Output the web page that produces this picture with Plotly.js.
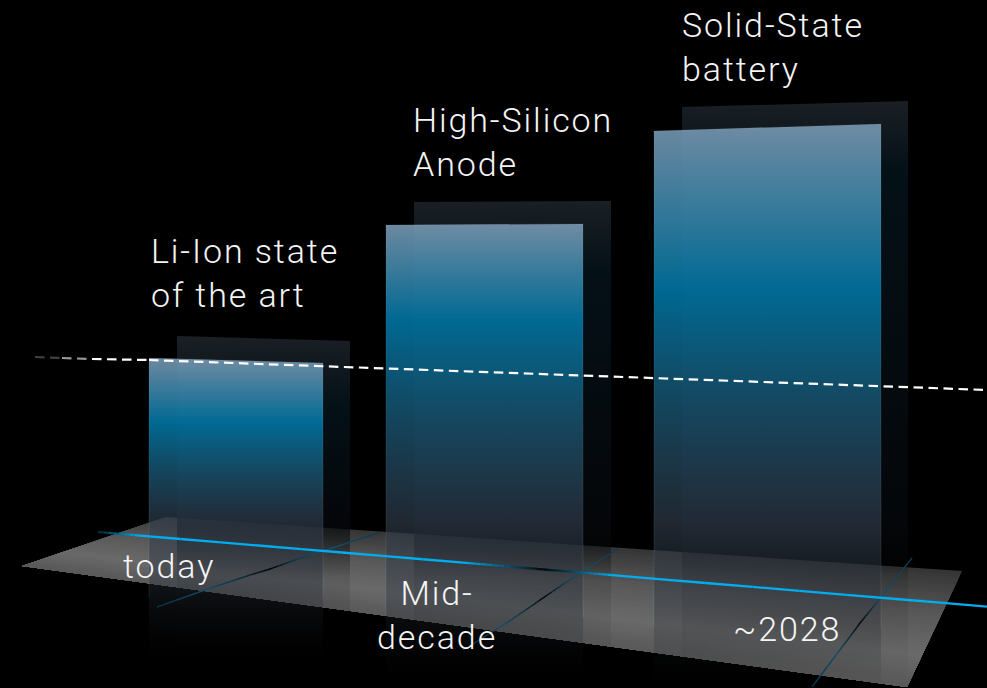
<!DOCTYPE html>
<html>
<head>
<meta charset="utf-8">
<script src="https://cdn.plot.ly/plotly-3.0.1.min.js"></script>
<style>
  html, body { margin: 0; padding: 0; background: #000; overflow: hidden; }
  #chart { width: 987px; height: 688px; }
  .annotation-text { letter-spacing: 1.9px; }
</style>
</head>
<body>
<div id="chart"></div>
<script>
// Technology stages, back to front in time
const stages = ['today', 'Mid-<br>decade', '~2028'];
const technologies = ['Li-Ion state<br>of the art', 'High-Silicon<br>Anode', 'Solid-State<br>battery'];

// Front bars: horizontal extent and the height of the slanted top edge
const frontLeft = [149, 386, 654];
const frontRight = [323, 583, 881];
const frontTopLeft = [330, 463, 557];
const frontTopRight = [325, 464, 564];
const frontFoot = [30, 10, 1];
const frontTeal = [265, 368, 398];

// Rear panels offset behind each bar
const rearLeft = [177, 414, 682];
const rearRight = [350, 611, 908];
const rearTopLeft = [352, 486, 581];
const rearTopRight = [347, 487, 587];

// Floor outline: left, back-left, back-right, front-right
const floorX = [22, 166, 962, 907];
const floorY = [122, 171, 117, 1];

// Capacity reference line, fading in from the left
const referenceX = [35, 62, 92, 149, 987];
const referenceY = [331, 330, 329, 328, 298];
const referenceAlpha = [0.25, 0.6, 1, 1];

// Timeline on the floor with its dim stretch
const timelineX = [98, 140, 463, 510, 543, 575, 612, 987];
const timelineY = [156, 152.4, 125.4, 121.4, 118.6, 116, 112.9, 81.4];
const timelineColor = ['#04222d', '#00aeef', '#00aeef', '#0b4a64', '#040709', '#0b4a64', '#00aeef', '#00aeef'];

// Stage markers crossing the timeline
const markerX = [
  [157, 205, 250, 270, 295, 323, 378],
  [463, 505, 530, 543, 562, 582, 619],
  [812, 836, 852, 860, 874, 881, 912]
];
const markerY = [
  [81, 98, 113, 119, 128, 137, 155],
  [38, 64, 81, 90, 103, 116, 140],
  [1, 33, 54, 65, 82, 91, 130]
];
const markerColor = ['#093044', '#10506c', '#0a2530', '#000000', '#0c3a4e', '#14536f', '#0c3a4e'];

// Floor brightness from the front edge (0) to the back edge (1)
const floorDepth = [0, 0.28, 0.62, 1];
const floorGray = [88, 106, 88, 52];

const labelX = [150, 412, 681];
const labelY = [458, 589, 684];
const stageX = [169, 437, 787];
const stageY = [122, 73, 59];

const traces = [];

function lerp(a, b, t) { return a + (b - a) * t; }

function hexChannels(hex) {
  return [1, 3, 5].map(p => parseInt(hex.slice(p, p + 2), 16));
}

function grayAt(t) {
  for (let i = 1; i < floorDepth.length; i++) {
    if (t <= floorDepth[i]) {
      const u = (t - floorDepth[i - 1]) / (floorDepth[i] - floorDepth[i - 1]);
      return lerp(floorGray[i - 1], floorGray[i], u);
    }
  }
  return floorGray[floorGray.length - 1];
}

// The floor is painted back to front so that each band covers the seam of the last
const BANDS = 36;
for (let k = 0; k < BANDS; k++) {
  const t = 1 - k / BANDS;
  const g = Math.round(grayAt(t - 0.5 / BANDS));
  traces.push({
    x: [floorX[0], lerp(floorX[0], floorX[1], t), lerp(floorX[3], floorX[2], t), floorX[3], floorX[0]],
    y: [floorY[0], lerp(floorY[0], floorY[1], t), lerp(floorY[3], floorY[2], t), floorY[3], floorY[0]],
    mode: 'lines', fill: 'toself', line: { width: 0 },
    fillcolor: `rgb(${g},${g},${g})`, hoverinfo: 'skip', showlegend: false
  });
}

function panel(left, right, topL, topR, scale) {
  const top = Math.max(topL, topR);
  return {
    x: [left, left, right, right, left],
    y: [0, topL, topR, 0, 0],
    mode: 'lines', fill: 'toself', line: { width: 0 },
    fillgradient: { type: 'vertical', start: top, stop: 0, colorscale: scale },
    hoverinfo: 'skip', showlegend: false
  };
}

// Rear panels
rearLeft.forEach((left, i) => {
  const top = Math.max(rearTopLeft[i], rearTopRight[i]);
  const at = h => (top - h) / top;
  traces.push(panel(left, rearRight[i], rearTopLeft[i], rearTopRight[i], [
    [0, 'rgba(28,34,39,0.92)'],
    [at(top - 70), 'rgba(4,18,25,0.92)'],
    [at(170), 'rgba(6,9,13,0.75)'],
    [at(110), 'rgba(10,10,12,0.12)'],
    [1, 'rgba(0,0,0,0)']
  ]));
});

// Front bars, translucent so that the floor shows through
frontLeft.forEach((left, i) => {
  const top = Math.max(frontTopLeft[i], frontTopRight[i]);
  const at = h => (top - h) / top;
  const foot = frontFoot[i];
  traces.push(panel(left, frontRight[i], frontTopLeft[i], frontTopRight[i], [
    [0, 'rgba(122,152,178,0.9)'],
    [at(frontTeal[i]), 'rgba(0,116,162,0.9)'],
    [at(166), 'rgba(52,64,80,0.62)'],
    [at((166 + foot) / 2), 'rgba(40,48,58,0.36)'],
    [at(foot), 'rgba(12,14,18,0.02)'],
    [1, 'rgba(0,0,0,0)']
  ]));
  traces.push({
    x: [left, left, frontRight[i], frontRight[i]],
    y: [foot + 60, frontTopLeft[i], frontTopRight[i], foot + 60],
    mode: 'lines', line: { width: 1, color: 'rgba(200,215,228,0.1)' },
    hoverinfo: 'skip', showlegend: false
  });
});

// A straight line whose colour runs through the given stops, drawn in short pieces
function gradientLine(xs, ys, colors, width) {
  const PIECES = 8;
  for (let i = 0; i + 1 < xs.length; i++) {
    const from = hexChannels(colors[i]);
    const to = hexChannels(colors[i + 1]);
    for (let p = 0; p < PIECES; p++) {
      const c = from.map((v, ch) => Math.round(lerp(v, to[ch], (p + 0.5) / PIECES)));
      traces.push({
        x: [lerp(xs[i], xs[i + 1], p / PIECES), lerp(xs[i], xs[i + 1], (p + 1) / PIECES)],
        y: [lerp(ys[i], ys[i + 1], p / PIECES), lerp(ys[i], ys[i + 1], (p + 1) / PIECES)],
        mode: 'lines', line: { width, color: `rgb(${c.join(',')})` },
        hoverinfo: 'skip', showlegend: false
      });
    }
  }
}

markerX.forEach((xs, i) => gradientLine(xs, markerY[i], markerColor, 1.4));
gradientLine(timelineX, timelineY, timelineColor, 2.3);

// Dashed reference line, drawn through to the right edge
referenceAlpha.forEach((alpha, i) => {
  traces.push({
    x: [referenceX[i], referenceX[i + 1]], y: [referenceY[i], referenceY[i + 1]], mode: 'lines',
    line: { width: 2.2, color: `rgba(255,255,255,${alpha})`, dash: '9.5px,5.5px' },
    hoverinfo: 'skip', showlegend: false
  });
});

const labelFont = { family: 'Roboto, "Noto Sans", sans-serif', size: 34, color: '#f4f4f4', weight: 300 };
const annotations = [];
technologies.forEach((text, i) => annotations.push({
  text, x: labelX[i], y: labelY[i], xref: 'x', yref: 'y', xanchor: 'left', yanchor: 'top',
  align: 'left', showarrow: false, font: labelFont, borderpad: 0
}));
stages.forEach((text, i) => annotations.push({
  text, x: stageX[i], y: stageY[i], xref: 'x', yref: 'y', xanchor: 'center', yanchor: 'middle',
  align: 'center', showarrow: false, font: labelFont, borderpad: 0
}));

const hiddenAxis = { visible: false, fixedrange: true, showgrid: false, zeroline: false };

Plotly.newPlot('chart', traces, {
  width: 987, height: 688,
  margin: { l: 0, r: 0, t: 0, b: 0 },
  paper_bgcolor: '#000', plot_bgcolor: '#000',
  showlegend: false,
  xaxis: Object.assign({ range: [0, 987] }, hiddenAxis),
  yaxis: Object.assign({ range: [0, 688] }, hiddenAxis),
  annotations
}, { displayModeBar: false, staticPlot: true });
</script>
</body>
</html>
